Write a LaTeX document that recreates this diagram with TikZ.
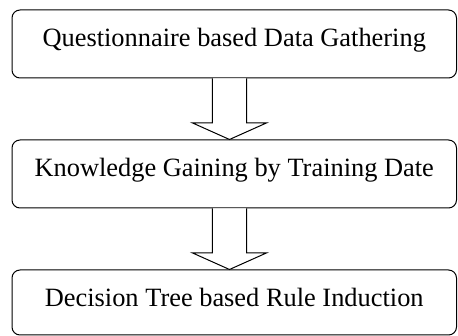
\documentclass[tikz,border=0pt]{standalone}
\usepackage{fontspec}
\setmainfont{Liberation Serif}
\usetikzlibrary{calc}
\begin{document}
\begin{tikzpicture}[x=1pt,y=-1pt,
  stage/.style={draw, line width=1pt, rounded corners=8pt, minimum width=444.5pt,
    minimum height=68pt, inner sep=0pt, font=\fontsize{26.4}{30}\selectfont,
    text height=18pt, text depth=12pt},
  blockarrow/.style={draw, line width=1pt, fill=white, line join=miter}]
\useasboundingbox (0,0) rectangle (458,336);
\node[stage] (b1) at (234.25,44) {Questionnaire based Data Gathering};
\node[stage] (b2) at (234.25,174) {Knowledge Gaining by Training Date};
\node[stage, minimum height=65pt, text height=19.5pt, text depth=10.5pt] (b3) at (234.25,302.5) {Decision Tree based Rule Induction};
\coordinate (a1s) at ($(b1.south)+(-4.75,0)$);
\coordinate (a1t) at ($(b2.north)+(-4.75,0)$);
\coordinate (a2s) at ($(b2.south)+(-4.75,0)$);
\coordinate (a2t) at ($(b3.north)+(-4.75,0)$);
\draw[blockarrow] ($(a1s)+(-17.2,0)$) -- ($(a1t)+(-17.2,-16.7)$) -- ($(a1t)+(-37.3,-16.7)$) -- (a1t) -- ($(a1t)+(37.3,-16.7)$) -- ($(a1t)+(17.2,-16.7)$) -- ($(a1s)+(17.2,0)$);
\draw[blockarrow] ($(a2s)+(-17.2,0)$) -- ($(a2t)+(-17.2,-16.7)$) -- ($(a2t)+(-37.3,-16.7)$) -- (a2t) -- ($(a2t)+(37.3,-16.7)$) -- ($(a2t)+(17.2,-16.7)$) -- ($(a2s)+(17.2,0)$);
\end{tikzpicture}
\end{document}
